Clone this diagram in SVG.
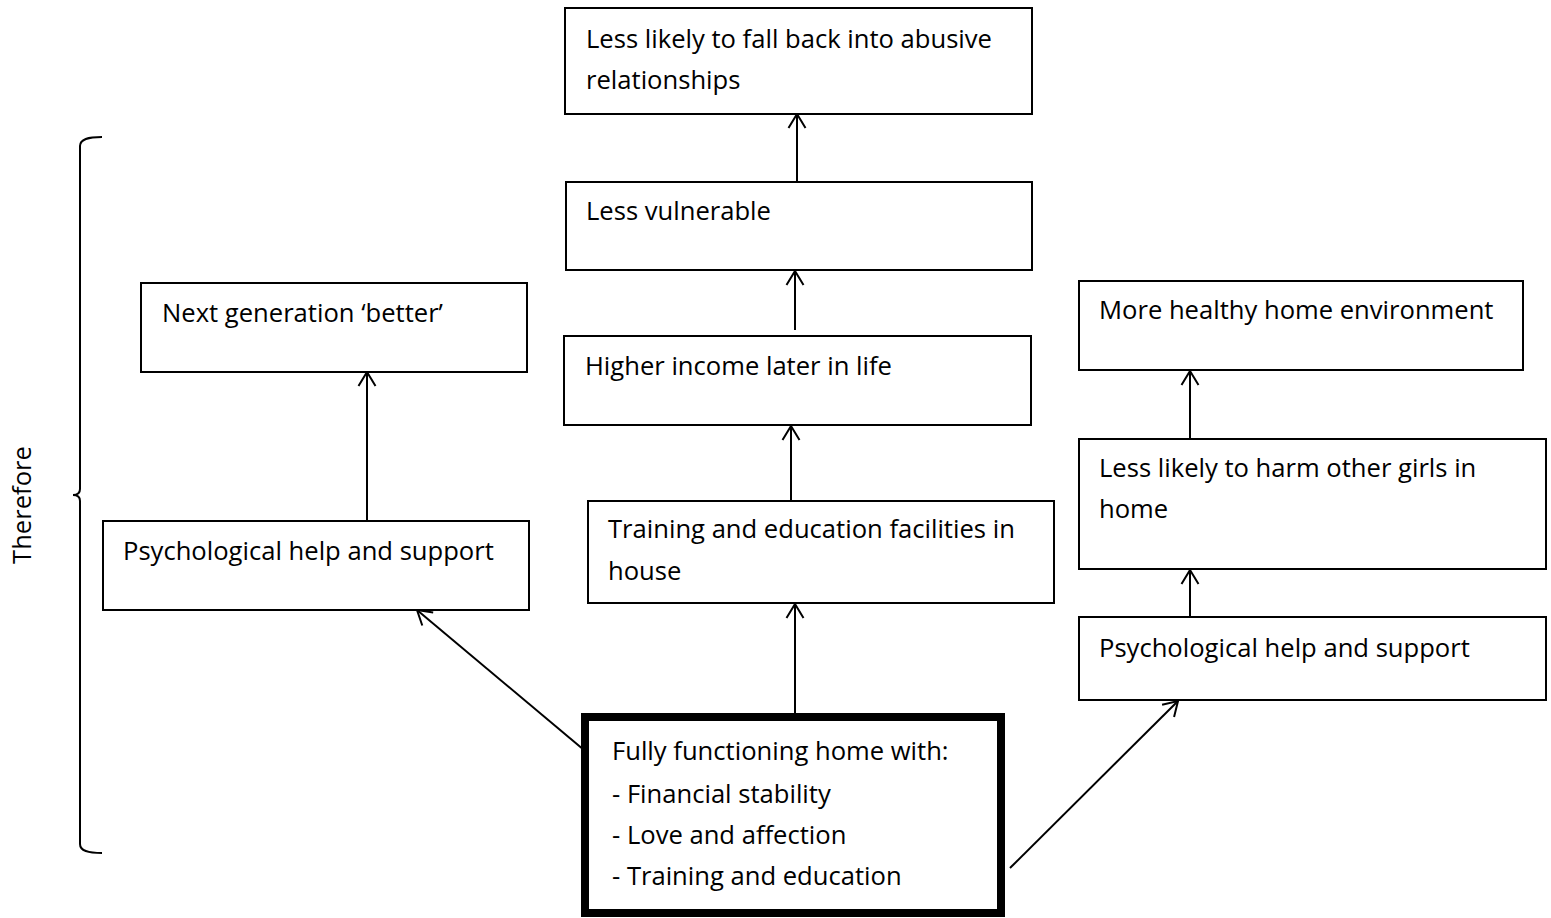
<svg xmlns="http://www.w3.org/2000/svg" width="1551" height="918" viewBox="0 0 1551 918">
<defs>
<style>
.box{fill:#fff;stroke:#000;stroke-width:2}
.thick{fill:#fff;stroke:#000;stroke-width:8}
text{font-family:"Open Sans",Lato,sans-serif;font-size:25.6px;fill:#000}
.c line,.c path{stroke:#000;stroke-width:2;fill:none}
</style>
<marker id="ah" viewBox="0 0 16 20" refX="15" refY="10" markerWidth="16" markerHeight="20" markerUnits="userSpaceOnUse" orient="auto">
<path d="M1,1.5 L15,10 L1,18.5" fill="none" stroke="#000" stroke-width="2"/>
</marker>
</defs>
<rect width="1551" height="918" fill="#fff"/>
<g class="c" id="connectors">
<line x1="797" y1="182" x2="797" y2="114" marker-end="url(#ah)"/>
<line x1="795" y1="330" x2="795" y2="271" marker-end="url(#ah)"/>
<line x1="791" y1="501" x2="791" y2="426" marker-end="url(#ah)"/>
<line x1="795" y1="716" x2="795" y2="604" marker-end="url(#ah)"/>
<line x1="367" y1="521" x2="367" y2="372" marker-end="url(#ah)"/>
<line x1="584" y1="750" x2="417" y2="610" marker-end="url(#ah)"/>
<line x1="1010" y1="868" x2="1178" y2="701" marker-end="url(#ah)"/>
<line x1="1190" y1="439" x2="1190" y2="371" marker-end="url(#ah)"/>
<line x1="1190" y1="617" x2="1190" y2="570" marker-end="url(#ah)"/>
</g>
<g id="bracket">
<path d="M102,137 C88,137 80,139 80,146 L80,489 C80,493 78,495 73,495 C78,495 80,497 80,501 L80,844 C80,851 88,853 102,853" fill="none" stroke="#000" stroke-width="2"/>
<text transform="translate(31,505) rotate(-90)" text-anchor="middle">Therefore</text>
</g>
<g id="n1"><rect class="box" x="565" y="8" width="467" height="106"/><text x="586" y="48">Less likely to fall back into abusive</text><text x="586" y="89">relationships</text></g>
<g id="n2"><rect class="box" x="566" y="182" width="466" height="88"/><text x="586" y="220">Less vulnerable</text></g>
<g id="n3"><rect class="box" x="564" y="336" width="467" height="89"/><text x="585" y="375">Higher income later in life</text></g>
<g id="n4"><rect class="box" x="588" y="501" width="466" height="102"/><text x="608" y="538">Training and education facilities in</text><text x="608" y="580">house</text></g>
<g id="n5"><rect class="thick" x="585" y="717" width="416" height="196"/><text x="612" y="760">Fully functioning home with:</text><text x="612" y="803">- Financial stability</text><text x="612" y="844">- Love and affection</text><text x="612" y="885">- Training and education</text></g>
<g id="n6"><rect class="box" x="141" y="283" width="386" height="89"/><text x="162" y="322">Next generation ‘better’</text></g>
<g id="n7"><rect class="box" x="103" y="521" width="426" height="89"/><text x="123" y="560">Psychological help and support</text></g>
<g id="n8"><rect class="box" x="1079" y="281" width="444" height="89"/><text x="1099" y="319">More healthy home environment</text></g>
<g id="n9"><rect class="box" x="1079" y="439" width="467" height="130"/><text x="1099" y="477">Less likely to harm other girls in</text><text x="1099" y="518">home</text></g>
<g id="n10"><rect class="box" x="1079" y="617" width="467" height="83"/><text x="1099" y="657">Psychological help and support</text></g>
</svg>
